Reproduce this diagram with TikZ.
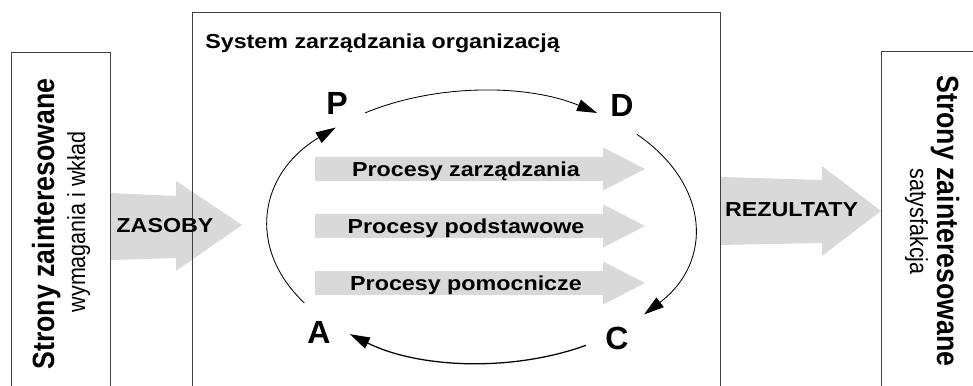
\documentclass[tikz,border=0pt]{standalone}
\usepackage{fontspec}
\setmainfont{Liberation Sans}
\usetikzlibrary{arrows.meta}
\usetikzlibrary{calc}

\begin{document}
\begin{tikzpicture}[
    wide/.style={inner sep=0pt,xscale=1.15,transform shape},
    lbl/.style={wide,font=\fontsize{14.4}{17}\selectfont\bfseries},
    side/.style={wide,font=\fontsize{19}{23}\selectfont\bfseries},
    sub/.style={wide,font=\fontsize{15.3}{18}\selectfont},
    pdca/.style={inner sep=0pt,font=\fontsize{22.8}{27}\selectfont\bfseries},
    frame/.style={black!75,line width=0.5pt},
    cyc/.style={line width=0.6pt,-{Triangle[length=5mm,width=3mm]}},
    flow/.style={fill=black!15}]
    \useasboundingbox (0,0) rectangle (24.325,9.65);
    % block arrows in and out
    \fill[flow] (2.75,4.825) -- (4.4,4.75) -- (4.4,5.125) -- (6.05,4.025) -- (4.4,2.875) -- (4.4,3.2) -- (2.75,3.15) -- cycle;
    \fill[flow] (18,5.225) -- (20.55,5.15) -- (20.55,5.5) -- (22.025,4.375) -- (20.55,3.25) -- (20.55,3.575) -- (18,3.525) -- cycle;
    % processes
    \foreach \y/\txt [count=\i] in {5.425/Procesy zarządzania,4.0/Procesy podstawowe,2.575/Procesy pomocnicze}{
      \fill[flow] (7.875,\y+0.3) -- (15.075,\y+0.3) -- (15.075,\y+0.54) -- (16.125,\y) -- (15.075,\y-0.54) -- (15.075,\y-0.3) -- (7.875,\y-0.3) -- cycle;
      \node[lbl,anchor=base] (proc\i) at (11.65,\y-0.18) {\txt};
    }
    % frames
    \draw[frame] (0.275,0) -- (0.275,8.35) -- (2.75,8.35) -- (2.75,0);
    \draw[frame] (4.8,0) -- (4.8,9.35) -- (18,9.35) -- (18,0);
    \draw[frame] (22.025,0) -- (22.025,8.375) -- (24.325,8.375);
    \node[lbl,anchor=base west] (title) at (5.125,8.425) {System zarządzania organizacją};
    \node[lbl] (zasoby) at (4.125,4.0) {ZASOBY};
    \node[lbl] (rezultaty) at (19.79,4.4) {REZULTATY};
    \node[side,rotate=90,anchor=base] (stronyL) at (1.35,4.05) {Strony zainteresowane};
    \node[sub,rotate=90,anchor=base] (wklad) at (2.125,4.1) {wymagania i wkład};
    \node[side,rotate=-90,anchor=base] (stronyR) at (23.425,4.125) {Strony zainteresowane};
    \node[sub,rotate=-90,anchor=base] (satysf) at (22.75,4.1125) {satysfakcja};
    % PDCA cycle
    \node[pdca] (P) at (8.425,7.075) {P};
    \node[pdca] (D) at (15.55,7.025) {D};
    \node[pdca] (C) at (15.425,1.2) {C};
    \node[pdca] (A) at (7.975,1.3375) {A};
    \coordinate (ctr) at (12.025,3.975);
    \draw[cyc] ([shift={(123:5.325 and 3.4)}]ctr) arc[start angle=123,end angle=57,x radius=5.325,y radius=3.4];
    \draw[cyc] ([shift={(43:5.325 and 3.4)}]ctr) arc[start angle=43,end angle=-40,x radius=5.325,y radius=3.4];
    \draw[cyc,line width=0.9pt] ([shift={(-60.5:5.325 and 3.4)}]ctr) arc[start angle=-60.5,end angle=-128,x radius=5.325,y radius=3.4];
    \draw[cyc] ([shift={(214:5.325 and 3.4)}]ctr) arc[start angle=214,end angle=133,x radius=5.325,y radius=3.4];
\end{tikzpicture}
\end{document}
